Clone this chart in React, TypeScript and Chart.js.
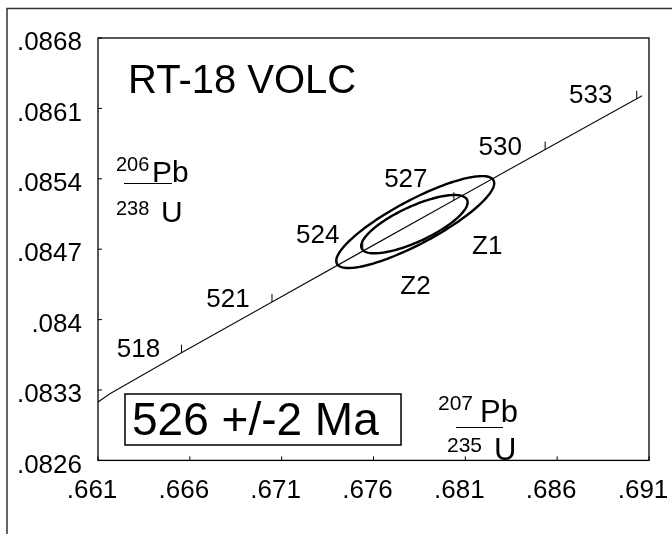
import { useEffect, useRef } from 'react';
import { Chart, registerables } from 'chart.js';

Chart.register(...registerables);

// ---- data ----
const xTicks = [0.661, 0.666, 0.671, 0.676, 0.681, 0.686, 0.691];
const xTickLabels = ['.661', '.666', '.671', '.676', '.681', '.686', '.691'];
const yTicks = [0.0826, 0.0833, 0.084, 0.0847, 0.0854, 0.0861, 0.0868];
const yTickLabels = ['.0826', '.0833', '.084', '.0847', '.0854', '.0861', '.0868'];

const ages = [518, 521, 524, 527, 530, 533];
const ageX = [0.665545, 0.670473, 0.675416, 0.680374, 0.685346, 0.690332];
const ageY = [0.083671, 0.084176, 0.084681, 0.085186, 0.085691, 0.086196];
const lineStartX = [0.661, 0.66165];
const lineStartY = [0.083181, 0.083263];
const lineEndX = [0.69062];
const lineEndY = [0.086225];

const ellipseNames = ['Z1', 'Z2'];
const ellipseX = [0.678272, 0.678228];
const ellipseY = [0.08497, 0.084949];
const ellipseSx = [0.0043, 0.002897];
const ellipseSy = [0.000457, 0.00029];
const ellipseRho = [0.845, 0.75];

const titleText = 'RT-18 VOLC';
const ageText = '526 +/-2 Ma';

// ---- layout (pixels) ----
const FONT = "'Liberation Sans', Arial, Helvetica, sans-serif";
const ageLabelOffsets = [[-43, -3], [-44, -2], [-45, -15], [-48, -20], [-45, -2], [-46, -3]];
const ellipseLabelOffsets = [[72, 25], [1, 63]];

const concordiaData = [
  ...lineStartX.map((v, i) => ({ x: v, y: lineStartY[i] })),
  ...ageX.map((v, i) => ({ x: v, y: ageY[i] })),
  ...lineEndX.map((v, i) => ({ x: v, y: lineEndY[i] })),
];

function drawLine(ctx: CanvasRenderingContext2D, x1: number, y1: number, x2: number, y2: number) {
  ctx.beginPath();
  ctx.moveTo(x1, y1);
  ctx.lineTo(x2, y2);
  ctx.stroke();
}

function text(ctx: CanvasRenderingContext2D, s: string, x: number, y: number, size: number, align: CanvasTextAlign = 'left', base: CanvasTextBaseline = 'alphabetic') {
  ctx.font = `${size}px ${FONT}`;
  ctx.textAlign = align;
  ctx.textBaseline = base;
  ctx.fillText(s, x, y);
}

const overlay = {
  id: 'overlay',
  afterDatasetsDraw(chart: any) {
    const { ctx, chartArea: a, scales } = chart;
    const xs = scales.x;
    const ys = scales.y;
    ctx.save();
    ctx.fillStyle = '#000';

    // outer figure frame
    ctx.strokeStyle = '#333';
    ctx.lineWidth = 1.5;
    ctx.beginPath();
    ctx.moveTo(7, 534);
    ctx.lineTo(7, 8.5);
    ctx.lineTo(672, 8.5);
    ctx.stroke();

    // plot frame
    ctx.strokeStyle = '#000';
    ctx.lineWidth = 1.3;
    ctx.strokeRect(a.left, a.top, a.right - a.left, a.bottom - a.top);

    // inward axis ticks
    ctx.lineWidth = 1;
    xTicks.forEach((v) => {
      const px = xs.getPixelForValue(v);
      drawLine(ctx, px, a.bottom, px, a.bottom - 4);
    });
    yTicks.forEach((v) => {
      const py = ys.getPixelForValue(v);
      drawLine(ctx, a.left, py, a.left + 4, py);
    });

    // error ellipses
    ctx.lineWidth = 2.4;
    ctx.strokeStyle = '#000';
    ellipseX.forEach((cxv, i) => {
      const cx = xs.getPixelForValue(cxv);
      const cy = ys.getPixelForValue(ellipseY[i]);
      const sx = xs.getPixelForValue(cxv + ellipseSx[i]) - cx;
      const sy = cy - ys.getPixelForValue(ellipseY[i] + ellipseSy[i]);
      const r = ellipseRho[i];
      const q = Math.sqrt(1 - r * r);
      ctx.beginPath();
      for (let k = 0; k <= 160; k++) {
        const t = (k / 160) * Math.PI * 2;
        const px = cx + sx * Math.cos(t);
        const py = cy - sy * (r * Math.cos(t) + q * Math.sin(t));
        if (k === 0) ctx.moveTo(px, py);
        else ctx.lineTo(px, py);
      }
      ctx.closePath();
      ctx.stroke();
      const [ox, oy] = ellipseLabelOffsets[i];
      text(ctx, ellipseNames[i], cx + ox, cy + oy, 26, 'center', 'middle');
    });

    // concordia age ticks + labels
    ctx.lineWidth = 1;
    ages.forEach((age, i) => {
      const px = xs.getPixelForValue(ageX[i]);
      const py = ys.getPixelForValue(ageY[i]);
      drawLine(ctx, px, py, px, py - 8);
      const [ox, oy] = ageLabelOffsets[i];
      text(ctx, String(age), px + ox, py + oy, 26, 'center', 'middle');
    });

    // title
    text(ctx, titleText, 128, 93, 40);

    // age box
    ctx.lineWidth = 1.5;
    ctx.strokeRect(125, 394, 276, 51);
    text(ctx, ageText, 132, 435, 46);

    // y-axis ratio label 206Pb/238U
    text(ctx, '206', 116, 171, 20);
    text(ctx, 'Pb', 152, 182, 30);
    ctx.lineWidth = 1.2;
    drawLine(ctx, 124, 183.5, 172, 183.5);
    text(ctx, '238', 116, 215, 20);
    text(ctx, 'U', 161, 222, 30);

    // x-axis ratio label 207Pb/235U
    text(ctx, '207', 438, 410, 21);
    text(ctx, 'Pb', 480, 422, 31);
    drawLine(ctx, 456, 427.5, 503, 427.5);
    text(ctx, '235', 447, 452, 21);
    text(ctx, 'U', 494, 460, 31);

    ctx.restore();
  },
};

export default function App() {
  const ref = useRef<HTMLCanvasElement>(null);
  useEffect(() => {
    if (!ref.current) return;
    const chart = new Chart(ref.current, {
      type: 'scatter',
      data: {
        datasets: [
          {
            label: 'Concordia',
            data: concordiaData,
            showLine: true,
            borderColor: '#111',
            borderWidth: 1.2,
            pointRadius: 0,
            fill: false,
          },
        ],
      },
      options: {
        animation: false,
        responsive: true,
        maintainAspectRatio: false,
        layout: { padding: { top: 38, right: 23, left: 0, bottom: 0 } },
        plugins: { legend: { display: false }, tooltip: { enabled: false } },
        scales: {
          x: {
            type: 'linear',
            min: 0.661,
            max: 0.691,
            grid: { display: false, drawTicks: false, tickLength: 0 },
            border: { display: false },
            afterBuildTicks: (s: any) => {
              s.ticks = xTicks.map((v) => ({ value: v }));
            },
            afterFit: (s: any) => {
              s.height = 73.6;
              s.paddingLeft = 0;
              s.paddingRight = 0;
            },
            ticks: {
              color: '#000',
              padding: 15,
              labelOffset: -6,
              maxRotation: 0,
              autoSkip: false,
              font: { family: FONT, size: 26 },
              callback: (_v: any, i: number) => xTickLabels[i],
            },
          },
          y: {
            type: 'linear',
            min: 0.0826,
            max: 0.0868,
            grid: { display: false, drawTicks: false, tickLength: 0 },
            border: { display: false },
            afterBuildTicks: (s: any) => {
              s.ticks = yTicks.map((v) => ({ value: v }));
            },
            afterFit: (s: any) => {
              s.width = 98;
              s.paddingTop = 0;
              s.paddingBottom = 0;
            },
            ticks: {
              color: '#000',
              padding: 16,
              labelOffset: 5,
              autoSkip: false,
              font: { family: FONT, size: 26 },
              callback: (_v: any, i: number) => yTickLabels[i],
            },
          },
        },
      },
      plugins: [overlay],
    });
    return () => chart.destroy();
  }, []);
  return (
    <div style={{ position: 'absolute', left: 0, top: 0, width: 672, height: 534, background: '#fff' }}>
      <canvas ref={ref} />
    </div>
  );
}
